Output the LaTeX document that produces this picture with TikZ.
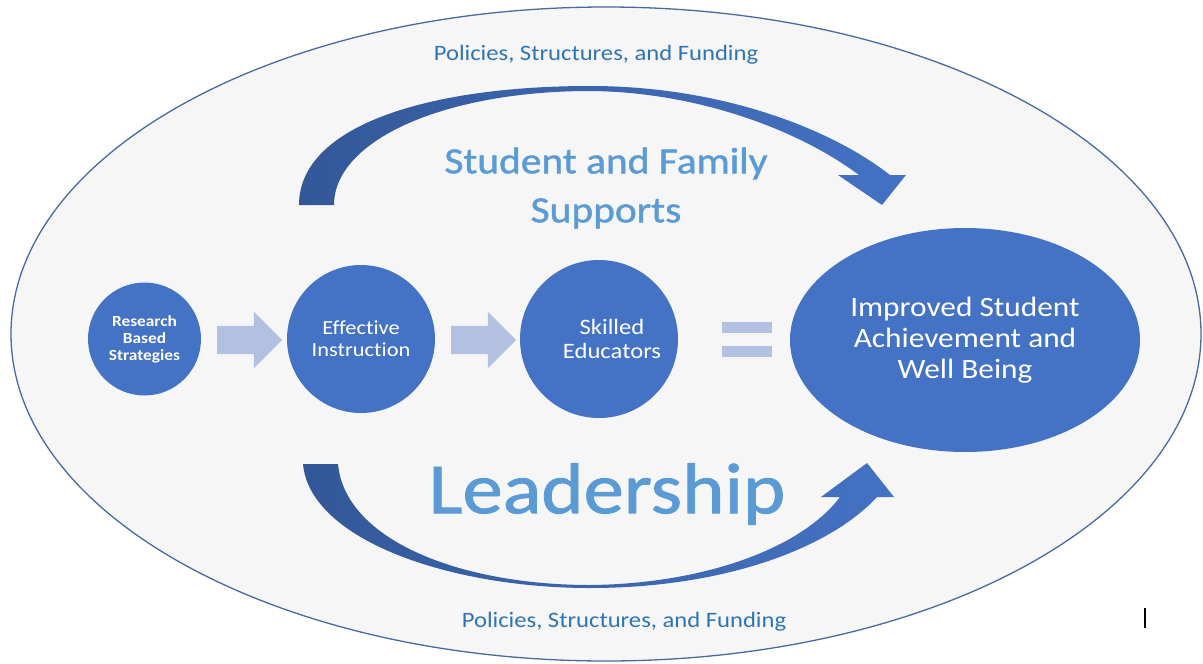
\documentclass[tikz,border=0pt]{standalone}
\usepackage{fontspec}
\setmainfont[FakeStretch=1.12,Ligatures=NoCommon]{Carlito}
\newfontfamily\wordfont[FakeStretch=1.12,FakeBold=1.2,Ligatures=NoCommon]{Carlito}
\usetikzlibrary{shapes.arrows,shapes.geometric,positioning}

\begin{document}
\begin{tikzpicture}[x=1pt,y=-1pt,
    bubble/.style={ellipse,fill=bubbleblue,text=white,align=center,inner sep=0pt},
    blockarrow/.style={single arrow,fill=paleblue,minimum height=65pt,minimum width=56pt,
      single arrow head extend=14pt,inner xsep=0pt,inner ysep=14pt},
    policy/.style={text=policyblue,font=\fontsize{22}{26}\selectfont},
    wordart/.style={text=wordblue,align=center}
  ]
    \definecolor{bubbleblue}{RGB}{68, 114, 196}
    \definecolor{paleblue}{RGB}{178, 192, 226}
    \definecolor{policyblue}{RGB}{46, 117, 182}
    \definecolor{wordblue}{RGB}{91, 155, 213}
    \definecolor{ringblue}{RGB}{72, 106, 160}
    \definecolor{darkarc}{RGB}{50, 88, 152}
    \definecolor{groundgray}{RGB}{246, 246, 246}

    \useasboundingbox (0,0) rectangle (1203,664);

    % outer ring
    \filldraw[fill=groundgray,draw=ringblue,line width=1.3pt] (606,334) ellipse [x radius=595, y radius=327];

    \node[policy] (polTop) at (596,55) {Policies, Structures, and Funding};
    \node[policy] (polBot) at (624,622) {Policies, Structures, and Funding};

    % curved arrows
    \shade[left color=darkarc,right color=bubbleblue]
      (299,205) .. controls (299,125) and (430,86) .. (590,86)
      .. controls (720,86) and (830,128) .. (890,175)
      -- (906,175) -- (882,205) -- (838,175) -- (859,175)
      .. controls (800,131) and (700,92) .. (590,91)
      .. controls (445,91) and (334,140) .. (334,205) -- cycle;
    \shade[left color=darkarc,right color=bubbleblue]
      (303,464) .. controls (310,540) and (450,588) .. (590,588)
      .. controls (725,588) and (830,548) .. (877,497)
      -- (894,497) -- (867,463) -- (821,497) -- (840,497)
      .. controls (800,550) and (700,584) .. (590,585)
      .. controls (460,585) and (345,540) .. (338,464) -- cycle;

    \node[wordart,font=\wordfont\fontsize{37}{49}\selectfont] (family) at (606,188) {Student and Family\\Supports};
    \node[wordart,font=\wordfont\fontsize{72}{76}\selectfont] (lead) at (607,494) {Leadership};

    % chain
    \node[bubble,minimum width=113pt,minimum height=113pt,font=\bfseries\fontsize{15.5}{17}\selectfont] (research) at (144.5,339) {Research\\Based\\Strategies};
    \node[bubble,minimum width=148pt,minimum height=148pt,font=\fontsize{20}{22}\selectfont] (effective) at (361,339) {Effective\\Instruction};
    \node[bubble,minimum width=158pt,minimum height=158pt] (skilled) at (599,339) {};
    \node[text=white,align=center,font=\fontsize{22}{24}\selectfont] (skilledtext) at (612,339) {Skilled\\Educators};
    \node[bubble,minimum width=350pt,minimum height=224pt,font=\fontsize{28}{31}\selectfont] (improved) at (965,340) {Improved Student\\Achievement and\\Well Being};

    \node[blockarrow] (step1) at (242.5,340) {};
    \node[blockarrow] (step2) at (476.5,340) {};

    \fill[paleblue] (722,322) rectangle (772,333);
    \fill[paleblue] (722,346) rectangle (772,357);

    \draw[black,line width=1.2pt] (1145,608) -- (1145,628);
\end{tikzpicture}
\end{document}
